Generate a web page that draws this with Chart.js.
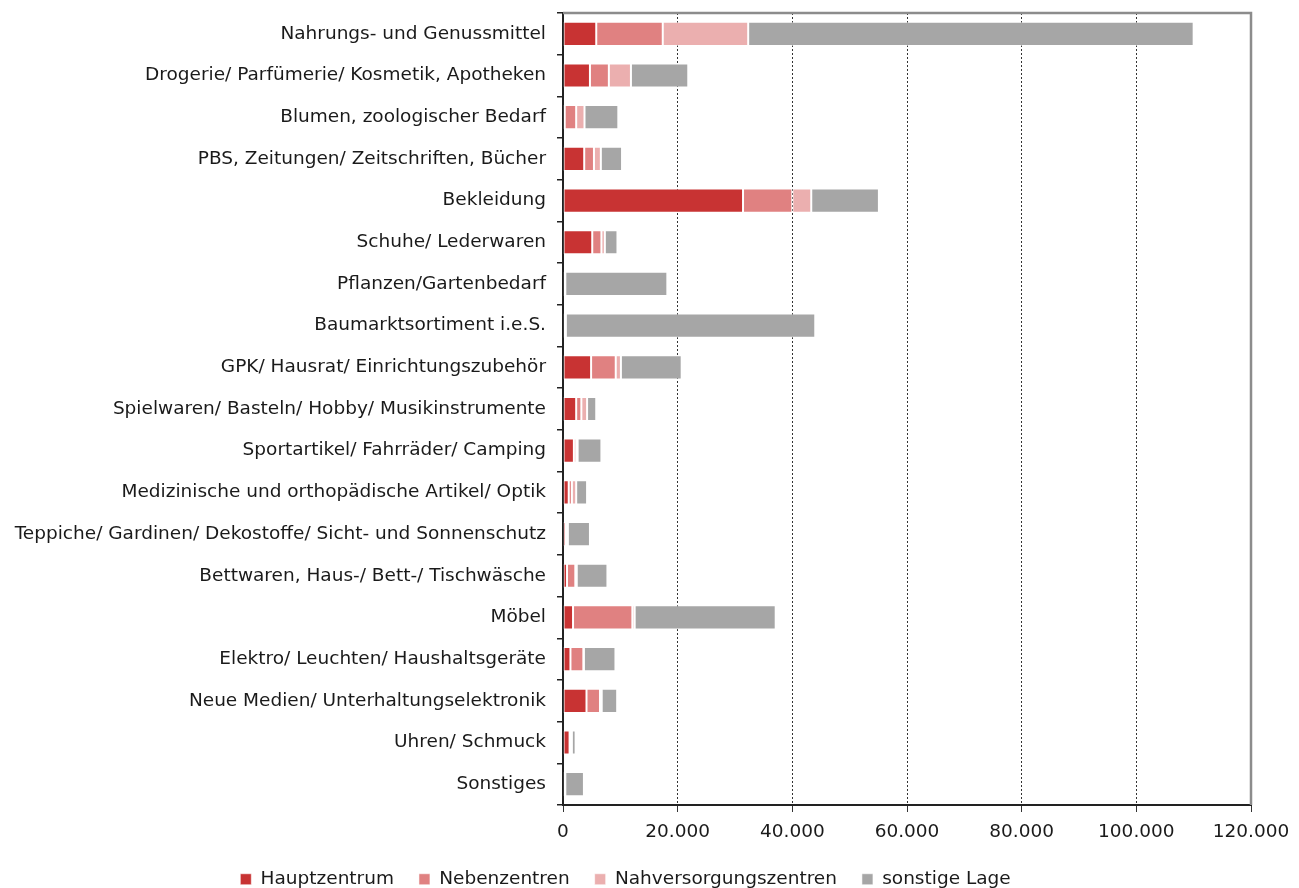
<!DOCTYPE html>
<html lang="de">
<head>
<meta charset="utf-8">
<title>Verkaufsfläche nach Lage</title>
<script src="https://cdn.jsdelivr.net/npm/chart.js@4/dist/chart.umd.min.js"></script>
<style>
  html, body { margin: 0; padding: 0; background: #fff; }
  #wrap { width: 1299px; height: 888px; position: relative; }
</style>
</head>
<body>
<div id="wrap"><canvas id="chart"></canvas></div>
<script>
// ─── Data ─────────────────────────────────────
const categories = [
  'Nahrungs- und Genussmittel',
  'Drogerie/ Parfümerie/ Kosmetik, Apotheken',
  'Blumen, zoologischer Bedarf',
  'PBS, Zeitungen/ Zeitschriften, Bücher',
  'Bekleidung',
  'Schuhe/ Lederwaren',
  'Pflanzen/Gartenbedarf',
  'Baumarktsortiment i.e.S.',
  'GPK/ Hausrat/ Einrichtungszubehör',
  'Spielwaren/ Basteln/ Hobby/ Musikinstrumente',
  'Sportartikel/ Fahrräder/ Camping',
  'Medizinische und orthopädische Artikel/ Optik',
  'Teppiche/ Gardinen/ Dekostoffe/ Sicht- und Sonnenschutz',
  'Bettwaren, Haus-/ Bett-/ Tischwäsche',
  'Möbel',
  'Elektro/ Leuchten/ Haushaltsgeräte',
  'Neue Medien/ Unterhaltungselektronik',
  'Uhren/ Schmuck',
  'Sonstiges',
];

const hauptzentrum = [5800, 4700, 300, 3700, 31400, 5100, 100, 100, 4900, 2300, 1900, 1000, 500, 700, 1750, 1300, 4100, 1150, 100];
const nebenzentren = [11600, 3300, 2000, 1700, 8600, 1600, 200, 300, 4300, 900, 400, 550, 250, 1450, 10350, 2250, 2350, 250, 200];
const nahversorgung = [14900, 3850, 1450, 1200, 3300, 600, 100, 100, 900, 1000, 250, 750, 100, 250, 400, 100, 300, 150, 100];
const sonstigeLage = [77700, 10000, 5900, 3700, 11800, 2200, 17800, 43500, 10600, 1600, 4150, 1900, 3850, 5350, 24600, 5500, 2700, 650, 3250];

const xTicks = [0, 20000, 40000, 60000, 80000, 100000, 120000];

const FONT = '"DejaVu Sans", sans-serif';

function fmt(v) {
  return String(v).replace(/\B(?=(\d{3})+(?!\d))/g, '.');
}

// top + right frame in grey
const framePlugin = {
  id: 'frame',
  afterDraw(chart) {
    const { ctx, chartArea: a } = chart;
    ctx.save();
    ctx.strokeStyle = '#8c8c8c';
    ctx.lineWidth = 2.5;
    ctx.beginPath();
    ctx.moveTo(a.left, a.top);
    ctx.lineTo(a.right, a.top);
    ctx.lineTo(a.right, a.bottom);
    ctx.stroke();
    ctx.restore();
  },
};

const ds = (label, data, color) => ({
  label, data, backgroundColor: color,
  borderColor: 'rgba(255,255,255,0.55)', borderWidth: 1, borderSkipped: false,
  barPercentage: 0.58, categoryPercentage: 1.0,
});

new Chart(document.getElementById('chart'), {
  type: 'bar',
  data: {
    labels: categories,
    datasets: [
      ds('Hauptzentrum', hauptzentrum, '#c83333'),
      ds('Nebenzentren', nebenzentren, '#e08181'),
      ds('Nahversorgungszentren', nahversorgung, '#ebafaf'),
      ds('sonstige Lage', sonstigeLage, '#a6a6a6'),
    ],
  },
  options: {
    indexAxis: 'y',
    responsive: true,
    maintainAspectRatio: false,
    animation: false,
    layout: { padding: { top: 13, right: 48, left: 0, bottom: 0 } },
    plugins: {
      tooltip: { enabled: false },
      legend: {
        position: 'bottom',
        maxHeight: 43,
        labels: {
          color: '#1a1a1a', boxWidth: 11, boxHeight: 11, padding: 25,
          font: { size: 18.5, family: FONT },
        },
      },
    },
    scales: {
      x: {
        stacked: true,
        min: 0, max: 120000,
        afterBuildTicks(axis) { axis.ticks = xTicks.map(v => ({ value: v })); },
        afterFit(axis) { axis.height = 40; },
        ticks: {
          color: '#1a1a1a', padding: 9,
          font: { size: 18.5, family: FONT },
          callback: v => fmt(v),
        },
        grid: {
          color: '#333', lineWidth: 1,
          tickLength: 7, tickBorderDash: [], tickColor: '#333',
        },
        border: { color: '#222', width: 2, dash: [2, 2] },
      },
      y: {
        stacked: true,
        afterFit(axis) { axis.width = 563; axis.paddingTop = 0; axis.paddingBottom = 0; },
        ticks: {
          color: '#1a1a1a', padding: 11,
          font: { size: 18.5, family: FONT },
        },
        grid: { drawOnChartArea: false, tickLength: 6, color: '#222', lineWidth: 1.5 },
        border: { color: '#222', width: 2 },
      },
    },
  },
  plugins: [framePlugin],
});
</script>
</body>
</html>
